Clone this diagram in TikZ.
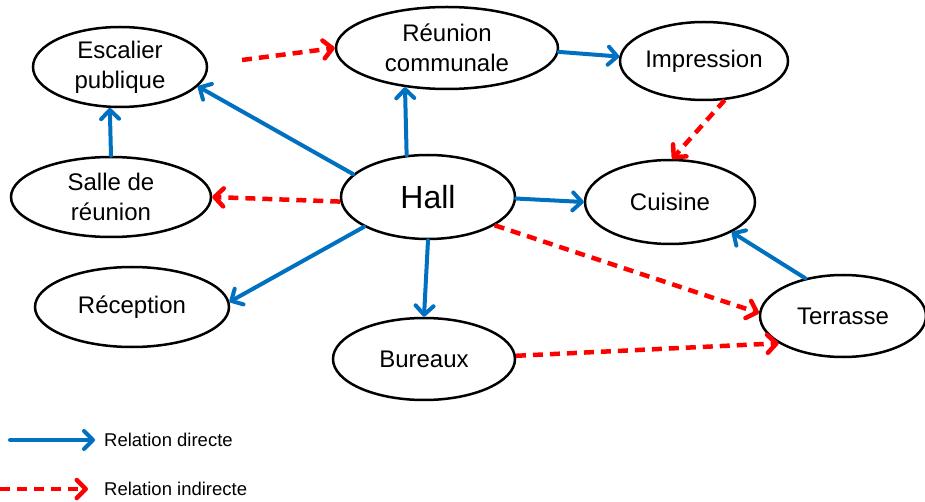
\documentclass[tikz,border=0pt]{standalone}
\usepackage{fontspec}
\setmainfont{Liberation Sans}
\usetikzlibrary{shapes.geometric,arrows.meta}
\definecolor{dblue}{RGB}{0,112,192}
\definecolor{ired}{RGB}{255,0,0}
\begin{document}
\begin{tikzpicture}[x=1pt,y=-1pt,
  box/.style={ellipse,draw=black,line width=2.5pt,inner sep=0pt,align=center,
    font=\fontsize{24}{30}\selectfont},
  direct/.style={draw=dblue,line width=4pt,line cap=round,
    -{Straight Barb[length=9pt,width=18pt,round]}},
  indirect/.style={draw=ired,line width=4.5pt,dash pattern=on 10pt off 7pt,
    -{Straight Barb[length=9pt,width=18pt,round]}},
  legendtext/.style={anchor=west,inner sep=0pt,font=\fontsize{18.5}{22}\selectfont}
]
\useasboundingbox (0,0) rectangle (925,502);
\node[box,minimum width=174pt,minimum height=80pt] (esc) at (120,67) {Escalier\\publique};
\node[box,minimum width=222pt,minimum height=82pt] (reun) at (447,48) {Réunion\\communale};
\node[box,minimum width=168pt,minimum height=78pt] (imp) at (704,61) {Impression};
\node[box,minimum width=200pt,minimum height=80pt] (salle) at (111,197) {Salle de\\réunion};
\node[box,minimum width=174pt,minimum height=84pt,font=\fontsize{32}{36}\selectfont] (hall) at (428,197) {Hall};
\node[box,minimum width=170pt,minimum height=84pt] (cuis) at (670,202) {Cuisine};
\node[box,minimum width=166pt,minimum height=82pt] (terr) at (843,316) {Terrasse};
\node[box,minimum width=194pt,minimum height=80pt] (recep) at (132,307) {Réception};
\node[box,minimum width=182pt,minimum height=82pt] (bur) at (424,359) {Bureaux};

\coordinate (s0) at (242,60);
\draw[indirect] (s0) -- (reun.west);
\draw[direct] (hall.163) -- (esc.-14);
\draw[direct] (salle.north) -- (esc.-104);
\draw[indirect] (hall.183) -- (salle.east);
\draw[direct] (hall.117) -- (reun.-137);
\draw[direct] (reun.-2) -- (imp.177);
\draw[indirect] (imp.-62) -- (cuis.87);
\draw[direct] (hall.-1) -- (cuis.west);
\draw[indirect] (hall.-23.5) -- (terr.178);
\draw[direct] (hall.205) -- (recep.3);
\draw[direct] (hall.south) -- (bur.north);
\draw[indirect] (bur.2) -- (terr.203);
\draw[direct] (terr.135) -- (cuis.-26);

\coordinate (l1a) at (10,440);
\coordinate (l1b) at (95,440);
\coordinate (l2a) at (0,489);
\coordinate (l2b) at (88,489);
\draw[direct] (l1a) -- (l1b);
\draw[indirect] (l2a) -- (l2b);
\node[legendtext] (t1) at (104,440) {Relation directe};
\node[legendtext] (t2) at (104,489) {Relation indirecte};
\end{tikzpicture}
\end{document}
